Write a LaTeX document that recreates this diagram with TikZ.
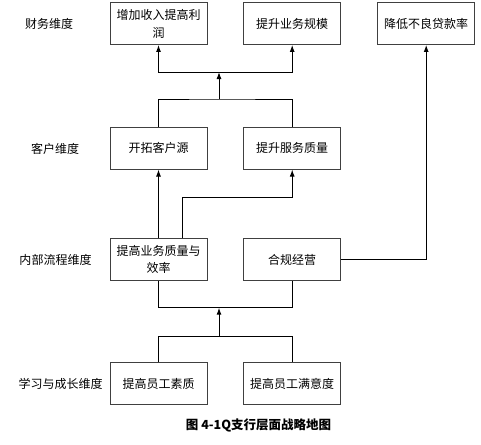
\documentclass[tikz,border=0pt]{standalone}
\usepackage{fontspec}
\setmainfont{Noto Sans CJK SC}
\usetikzlibrary{arrows.meta}
\begin{document}
\begin{tikzpicture}[x=1pt,y=-1pt,
  box/.style={draw=black!75,line width=1pt,minimum width=97pt,minimum height=41.5pt,inner sep=0pt,
    align=center,font=\fontsize{12}{17.5}\selectfont},
  dim/.style={font=\fontsize{12}{14}\selectfont,inner sep=0pt},
  conn/.style={line width=1pt,black},
  arr/.style={conn,-{Latex[length=7pt,width=5pt]}}]
\useasboundingbox (0,0) rectangle (481,444);
% boxes
\node[box] (f1) at (158.5,23.7) {增加收入提高利\\润};
\node[box] (f2) at (292.2,23.7) {提升业务规模};
\node[box] (f3) at (426.2,23.7) {降低不良贷款率};
\node[box] (c1) at (158.5,148.3) {开拓客户源};
\node[box] (c2) at (292.2,148.3) {提升服务质量};
\node[box] (p1) at (158.5,259.5) {提高业务质量与\\效率};
\node[box] (p2) at (292.2,259.5) {合规经营};
\node[box] (l1) at (158.5,383.7) {提高员工素质};
\node[box] (l2) at (292.2,383.7) {提高员工满意度};
% dimension labels
\node[dim] (d1) at (49,24) {财务维度};
\node[dim] (d2) at (55,148.5) {客户维度};
\node[dim] (d3) at (55.5,260) {内部流程维度};
\node[dim] (d4) at (60.5,384) {学习与成长维度};
% caption
\node[font=\bfseries\fontsize{12.5}{14}\selectfont,inner sep=0pt] (cap) at (258.5,425.5) {图 4-1Q支行层面战略地图};
% coordinates
\coordinate (j1) at (219,72);
\coordinate (j2) at (219,99);
\coordinate (j3) at (219,307.7);
\coordinate (j4) at (219,336.7);
% finance junction
\draw[arr] (j1) -| (f1.south);
\draw[arr] (j1) -| (f2.south);
\draw[arr] (j2) -- (j1);
\draw[conn] (c1.north) |- (j2) -| (c2.north);
% internal to customer
\draw[arr] (p1.north) -- (c1.south);
\draw[arr] ([xshift=24pt]p1.north) |- ([yshift=-28pt]c2.south) -- (c2.south);
% compliance to NPL
\draw[arr] (p2.east) -| (f3.south);
% learning to internal
\draw[conn] (p1.south) |- (j3) -| (p2.south);
\draw[arr] (j4) -- (j3);
\draw[conn] (l1.north) |- (j4) -| (l2.north);
\end{tikzpicture}
\end{document}
